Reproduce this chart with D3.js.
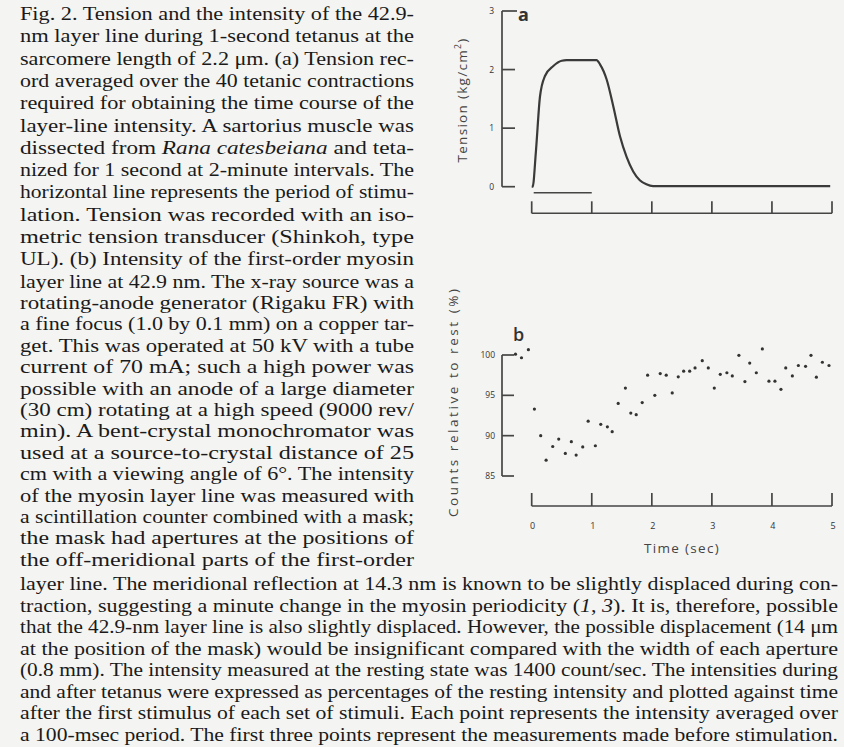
<!DOCTYPE html>
<html><head><meta charset="utf-8">
<script src="https://cdn.jsdelivr.net/npm/d3@7"></script>
<style>html,body{margin:0;padding:0;background:#f4f4f2;}svg{display:block;}</style>
</head><body>
<svg id="c" width="844" height="747"></svg>
<script>
// ---------- data ----------
const tensionTime = [0, 0.016, 0.07, 0.138, 0.221, 0.36, 0.5, 0.58, 1.08, 1.137, 1.248, 1.359, 1.47, 1.58, 1.69, 1.80, 1.91, 2.02, 3.0, 4.97];
const tensionValue = [0, 0.0, 0.6, 1.54, 1.89, 2.06, 2.15, 2.16, 2.16, 2.09, 1.83, 1.37, 0.86, 0.51, 0.26, 0.11, 0.04, 0.01, 0.01, 0.01];
const stimPeriod = [0, 1];
const countTime = [-0.27, -0.17, -0.055, 0.045, 0.15, 0.24, 0.35, 0.45, 0.56, 0.66, 0.74, 0.85, 0.94, 1.06, 1.15, 1.26, 1.34, 1.44, 1.56, 1.65, 1.74, 1.84, 1.93, 2.05, 2.14, 2.24, 2.34, 2.44, 2.53, 2.63, 2.72, 2.84, 2.94, 3.04, 3.14, 3.25, 3.34, 3.45, 3.55, 3.63, 3.74, 3.84, 3.95, 4.05, 4.15, 4.23, 4.34, 4.44, 4.56, 4.65, 4.74, 4.84, 4.95];
const countValue = [100.1, 99.66, 100.66, 93.3, 90.0, 86.96, 88.66, 89.58, 87.8, 89.25, 87.6, 88.6, 91.8, 88.75, 91.4, 91.1, 90.5, 94.0, 95.9, 92.8, 92.6, 94.1, 97.5, 95.0, 97.7, 97.5, 95.3, 97.3, 98.0, 98.0, 98.4, 99.3, 98.4, 95.9, 97.6, 97.8, 97.4, 99.96, 96.7, 99.0, 97.8, 100.75, 96.75, 96.75, 95.75, 98.4, 97.4, 98.7, 98.6, 99.96, 97.25, 99.1, 98.7];
const timeTicks = [0, 1, 2, 3, 4, 5];
const tensionTicks = [0, 1, 2, 3];
const countTicks = [85, 90, 95, 100];

const leftLines = [
 "Fig. 2. Tension and the intensity of the 42.9-",
 "nm layer line during 1-second tetanus at the",
 "sarcomere length of 2.2 μm. (a) Tension rec-",
 "ord averaged over the 40 tetanic contractions",
 "required for obtaining the time course of the",
 "layer-line intensity. A sartorius muscle was",
 "dissected from *Rana catesbeiana* and teta-",
 "nized for 1 second at 2-minute intervals. The",
 "horizontal line represents the period of stimu-",
 "lation. Tension was recorded with an iso-",
 "metric tension transducer (Shinkoh, type",
 "UL). (b) Intensity of the first-order myosin",
 "layer line at 42.9 nm. The x-ray source was a",
 "rotating-anode generator (Rigaku FR) with",
 "a fine focus (1.0 by 0.1 mm) on a copper tar-",
 "get. This was operated at 50 kV with a tube",
 "current of 70 mA; such a high power was",
 "possible with an anode of a large diameter",
 "(30 cm) rotating at a high speed (9000 rev/",
 "min). A bent-crystal monochromator was",
 "used at a source-to-crystal distance of 25",
 "cm with a viewing angle of 6°. The intensity",
 "of the myosin layer line was measured with",
 "a scintillation counter combined with a mask;",
 "the mask had apertures at the positions of",
 "the off-meridional parts of the first-order"
];
const bottomLines = [
 "layer line. The meridional reflection at 14.3 nm is known to be slightly displaced during con-",
 "traction, suggesting a minute change in the myosin periodicity (*1*, *3*). It is, therefore, possible",
 "that the 42.9-nm layer line is also slightly displaced. However, the possible displacement (14 μm",
 "at the position of the mask) would be insignificant compared with the width of each aperture",
 "(0.8 mm). The intensity measured at the resting state was 1400 count/sec. The intensities during",
 "and after tetanus were expressed as percentages of the resting intensity and plotted against time",
 "after the first stimulus of each set of stimuli. Each point represents the intensity averaged over",
 "a 100-msec period. The first three points represent the measurements made before stimulation."
];

// ---------- drawing ----------
const svg = d3.select("#c");
svg.append("rect").attr("width", 844).attr("height", 747).attr("fill", "#f4f4f2");

function addLine(g, str, x, y, w, size) {
  const t = g.append("text").attr("x", x).attr("y", y)
    .attr("font-family", "'Liberation Serif', 'Times New Roman', serif")
    .attr("font-size", size).attr("fill", "#1a1a1a")
    .attr("textLength", w).attr("lengthAdjust", "spacingAndGlyphs");
  str.split("*").forEach((part, i) => {
    if (!part) return;
    const s = t.append("tspan").text(part);
    if (i % 2 === 1) s.attr("font-style", "italic");
  });
}
const txt = svg.append("g");
leftLines.forEach((l, i) => addLine(txt, l, 20, i <= 12 ? 20 + i * 22.3 : 287.6 + (i - 12) * 21.4, 394, 19));
bottomLines.forEach((l, i) => addLine(txt, l, 20, 590 + i * 21.5, 818, 19.5));

const ink = "#454545";
const sans = "'Open Sans', 'DejaVu Sans', sans-serif";

const x = d3.scaleLinear().domain([0, 5]).range([531.7, 832]);
const axisX = 502;

// ---- panel a ----
const ya = d3.scaleLinear().domain([0, 3]).range([186.7, 11]);
const ga = svg.append("g");
ga.append("line").attr("x1", axisX).attr("x2", axisX).attr("y1", ya(3)).attr("y2", ya(0))
  .attr("stroke", ink).attr("stroke-width", 1.7);
ga.selectAll(".tk").data(tensionTicks).join("line")
  .attr("x1", axisX).attr("x2", d => d === 3 ? axisX + 15 : axisX + 13)
  .attr("y1", d => ya(d)).attr("y2", d => ya(d)).attr("stroke", ink).attr("stroke-width", 1.7);
ga.selectAll(".tl").data(tensionTicks).join("text")
  .attr("x", 494).attr("y", d => ya(d) + 3).attr("text-anchor", "end")
  .attr("font-family", sans).attr("font-size", 8.5).attr("fill", "#333").text(d => d);
ga.append("text").attr("x", 518).attr("y", 21).attr("font-family", sans)
  .attr("font-weight", 700).attr("font-size", 18).attr("fill", "#333").text("a");
const tl = ga.append("text").attr("transform", "translate(467,100) rotate(-90)")
  .attr("text-anchor", "middle").attr("font-family", sans).attr("font-size", 13.5)
  .attr("fill", "#444").attr("letter-spacing", 1.3);
tl.append("tspan").text("Tension (kg/cm");
tl.append("tspan").attr("font-size", 8.5).attr("dy", -6).text("2");
tl.append("tspan").attr("dy", 6).text(")");
// time axis a
const baseA = 213.3;
ga.append("line").attr("x1", x(0)).attr("x2", x(5)).attr("y1", baseA).attr("y2", baseA)
  .attr("stroke", ink).attr("stroke-width", 1.6);
ga.selectAll(".xt").data(timeTicks).join("line")
  .attr("x1", d => x(d)).attr("x2", d => x(d)).attr("y1", baseA).attr("y2", baseA - 12)
  .attr("stroke", ink).attr("stroke-width", 1.7);
// stimulation line
ga.append("line").attr("x1", x(stimPeriod[0]) + 2).attr("x2", x(stimPeriod[1]))
  .attr("y1", 192.7).attr("y2", 192.7).attr("stroke", ink).attr("stroke-width", 1.6);
// tension curve
const tData = tensionTime.map((t, i) => [t, tensionValue[i]]);
ga.append("path").datum(tData)
  .attr("d", d3.line().x(d => x(d[0])).y(d => ya(d[1])).curve(d3.curveMonotoneX))
  .attr("fill", "none").attr("stroke", "#3a3a3a").attr("stroke-width", 2.2);

// ---- panel b ----
const yb = d3.scaleLinear().domain([85, 100]).range([476, 355]);
const gb = svg.append("g");
gb.append("line").attr("x1", axisX).attr("x2", axisX).attr("y1", yb(100)).attr("y2", yb(85))
  .attr("stroke", ink).attr("stroke-width", 1.7);
gb.selectAll(".tk").data(countTicks).join("line")
  .attr("x1", axisX).attr("x2", axisX + 12)
  .attr("y1", d => yb(d)).attr("y2", d => yb(d)).attr("stroke", ink).attr("stroke-width", 1.7);
gb.selectAll(".tl").data(countTicks).join("text")
  .attr("x", 495).attr("y", d => yb(d) + 3).attr("text-anchor", "end")
  .attr("font-family", sans).attr("font-size", 8.5).attr("fill", "#333").text(d => d);
gb.append("text").attr("x", 513).attr("y", 341).attr("font-family", sans)
  .attr("font-weight", 600).attr("font-size", 18).attr("fill", "#333").text("b");
gb.append("text").attr("transform", "translate(458,403) rotate(-90)")
  .attr("text-anchor", "middle").attr("font-family", sans).attr("font-size", 13.5)
  .attr("fill", "#444").attr("textLength", 228).attr("lengthAdjust", "spacing")
  .text("Counts relative to rest (%)");
const baseB = 506;
gb.append("line").attr("x1", x(0)).attr("x2", x(5)).attr("y1", baseB).attr("y2", baseB)
  .attr("stroke", ink).attr("stroke-width", 1.6);
gb.selectAll(".xt").data(timeTicks).join("line")
  .attr("x1", d => x(d)).attr("x2", d => x(d)).attr("y1", baseB).attr("y2", baseB - 13)
  .attr("stroke", ink).attr("stroke-width", 1.7);
gb.selectAll(".xl").data(timeTicks).join("text")
  .attr("x", d => x(d) + 1).attr("y", 529).attr("text-anchor", "middle")
  .attr("font-family", sans).attr("font-size", 9).attr("fill", "#333").text(d => d);
gb.append("text").attr("x", 682).attr("y", 553).attr("text-anchor", "middle")
  .attr("font-family", sans).attr("font-size", 13.5).attr("fill", "#444")
  .attr("letter-spacing", 1.3).text("Time (sec)");
gb.selectAll(".pt").data(countTime.map((t, i) => [t, countValue[i]])).join("circle")
  .attr("cx", d => x(d[0])).attr("cy", d => yb(d[1])).attr("r", 1.6).attr("fill", "#333");
</script>
</body></html>
